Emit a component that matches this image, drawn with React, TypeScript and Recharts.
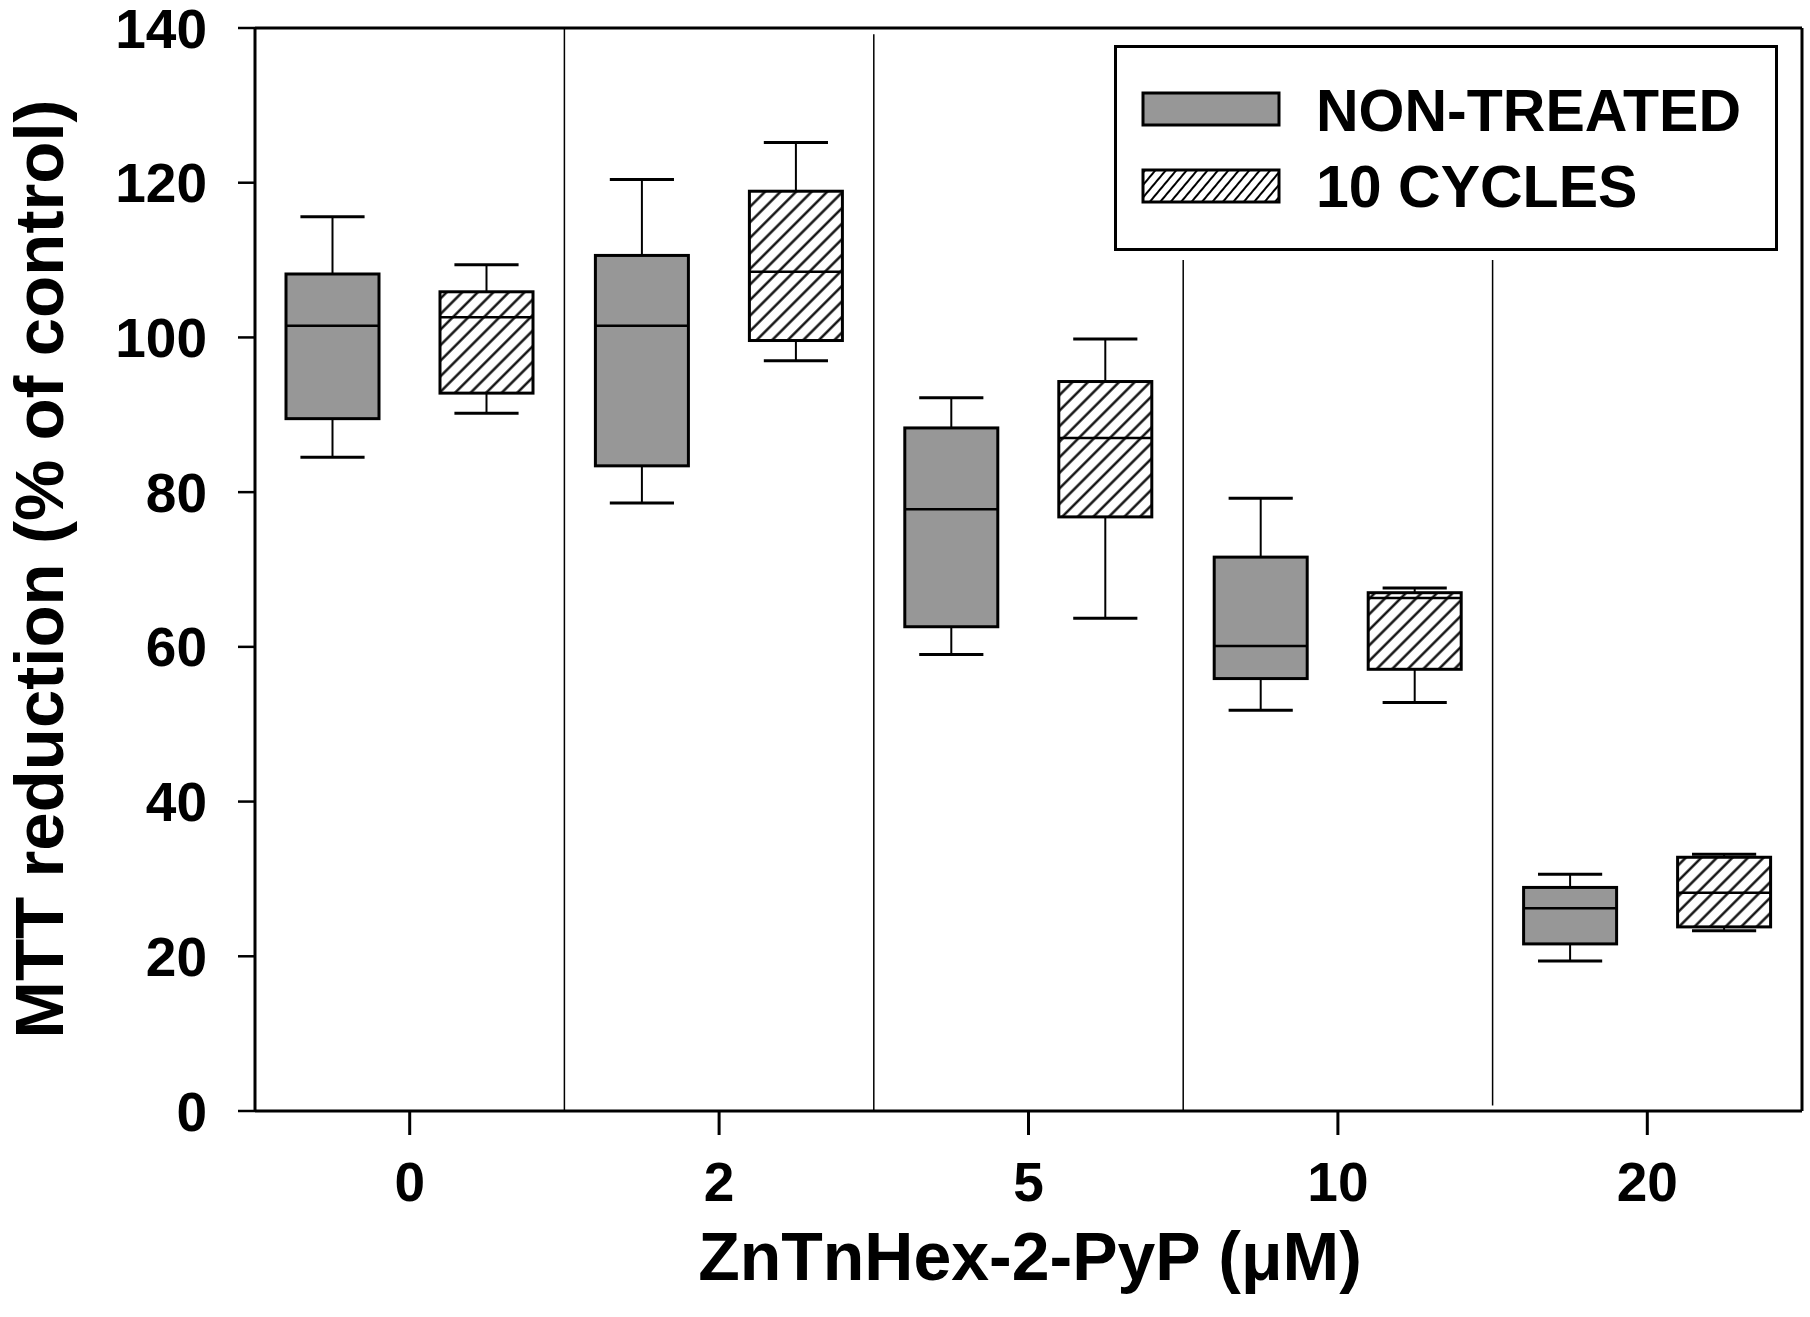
import React from 'react';
import { ComposedChart, Bar, XAxis, YAxis, ReferenceLine } from 'recharts';

const categories = ['0', '2', '5', '10', '20'];

const nonTreatedMin = [84.5, 78.6, 59.0, 51.8, 19.4];
const nonTreatedQ1 = [89.5, 83.4, 62.6, 55.9, 21.6];
const nonTreatedMedian = [101.5, 101.5, 77.8, 60.1, 26.2];
const nonTreatedQ3 = [108.2, 110.6, 88.3, 71.6, 28.9];
const nonTreatedMax = [115.6, 120.4, 92.2, 79.2, 30.6];

const cyclesMin = [90.2, 97.0, 63.7, 52.8, 23.3];
const cyclesQ1 = [92.8, 99.6, 76.8, 57.1, 23.8];
const cyclesMedian = [102.6, 108.5, 87.0, 66.3, 28.2];
const cyclesQ3 = [105.9, 118.9, 94.3, 67.0, 32.8];
const cyclesMax = [109.4, 125.2, 99.8, 67.6, 33.2];

const yTicks = [0, 20, 40, 60, 80, 100, 120, 140];
const seriesNames = ['NON-TREATED', '10 CYCLES'];
// separators sit at the start of these categories
const separators = [
  { cat: '2', y1: 0, y2: 140 },
  { cat: '5', y1: 0, y2: 139.2 },
  { cat: '10', y1: 0, y2: 110 },
  { cat: '20', y1: 0.7, y2: 110 },
];

const FONT = '"Liberation Sans", Arial, Helvetica, sans-serif';
const GRAY = '#979797';

const data = categories.map((cat, i) => ({
  cat,
  nt: { min: nonTreatedMin[i], q1: nonTreatedQ1[i], med: nonTreatedMedian[i], q3: nonTreatedQ3[i], max: nonTreatedMax[i] },
  cy: { min: cyclesMin[i], q1: cyclesQ1[i], med: cyclesMedian[i], q3: cyclesQ3[i], max: cyclesMax[i] },
}));

const makeBoxShape = (key: 'nt' | 'cy', hatched: boolean) => (props: any) => {
  const { x, y, width, height, payload, index } = props;
  const s = payload[key];
  const top = Math.min(y, y + height);
  const bot = Math.max(y, y + height);
  const k = (bot - top) / (s.q3 - s.q1);
  const py = (v: number) => top + (s.q3 - v) * k;
  const cx = x + width / 2;
  const cap = width * 0.69;
  const pid = `hatch-${key}-${index}`;
  return (
    <g>
      {hatched && (
        <defs>
          <pattern id={pid} patternUnits="userSpaceOnUse" width={11} height={11} patternTransform="rotate(45)">
            <rect x={0} y={0} width={11} height={11} fill="#fff" />
            <line x1={5.5} y1={0} x2={5.5} y2={11} stroke="#000" strokeWidth={2.3} />
          </pattern>
        </defs>
      )}
      <line x1={cx} x2={cx} y1={py(s.max)} y2={top} stroke="#000" strokeWidth={2} />
      <line x1={cx - cap / 2} x2={cx + cap / 2} y1={py(s.max)} y2={py(s.max)} stroke="#000" strokeWidth={3} />
      <line x1={cx} x2={cx} y1={bot} y2={py(s.min)} stroke="#000" strokeWidth={2} />
      <line x1={cx - cap / 2} x2={cx + cap / 2} y1={py(s.min)} y2={py(s.min)} stroke="#000" strokeWidth={3} />
      <rect x={x} y={top} width={width} height={bot - top} fill={hatched ? `url(#${pid})` : GRAY} stroke="#000" strokeWidth={3} />
      <line x1={x} x2={x + width} y1={py(s.med)} y2={py(s.med)} stroke="#000" strokeWidth={2.5} />
    </g>
  );
};

const YTitle = () => (
  <text
    x={63}
    y={569}
    transform="rotate(-90 63 569)"
    textAnchor="middle"
    fontFamily={FONT}
    fontWeight="bold"
    fontSize={69}
    fill="#000"
  >
    MTT reduction (% of control)
  </text>
);

const XTitle = () => (
  <text x={1030} y={1280} textAnchor="middle" fontFamily={FONT} fontWeight="bold" fontSize={68} fill="#000">
    ZnTnHex-2-PyP (μM)
  </text>
);

const LegendBox = () => (
  <div
    style={{
      position: 'absolute',
      left: 1114,
      top: 45,
      width: 664,
      height: 206,
      background: '#fff',
      border: '3px solid #000',
      boxSizing: 'border-box',
    }}
  >
    <svg width={658} height={200} style={{ position: 'absolute', left: 0, top: 0 }}>
      <defs>
        <pattern id="legend-hatch" patternUnits="userSpaceOnUse" width={8} height={8} patternTransform="rotate(40)">
          <rect x={0} y={0} width={8} height={8} fill="#fff" />
          <line x1={4} y1={0} x2={4} y2={8} stroke="#000" strokeWidth={2} />
        </pattern>
      </defs>
      {seriesNames.map((name, i) => (
        <g key={name}>
          <rect
            x={26}
            y={45 + i * 77}
            width={136}
            height={32}
            fill={i === 0 ? GRAY : 'url(#legend-hatch)'}
            stroke="#000"
            strokeWidth={3}
          />
          <text x={199} y={83 + i * 76} fontFamily={FONT} fontWeight="bold" fontSize={59} fill="#000">
            {name}
          </text>
        </g>
      ))}
    </svg>
  </div>
);

export default function App() {
  return (
    <div style={{ position: 'relative', width: 1810, height: 1317, background: '#fff' }}>
      <style>{`body{margin:0;background:#fff;}`}</style>
      <ComposedChart
        width={1810}
        height={1317}
        data={data}
        margin={{ top: 28, right: 8, bottom: 0, left: 0 }}
        barSize={93}
        barGap={61}
      >
        <XAxis
          dataKey="cat"
          height={206}
          axisLine={{ stroke: '#000', strokeWidth: 3 }}
          tickLine={{ stroke: '#000', strokeWidth: 3 }}
          tickSize={24}
          tickMargin={27}
          interval={0}
          tick={{ fontSize: 55, fontWeight: 'bold', fill: '#000', fontFamily: FONT }}
          label={{ content: () => <XTitle /> }}
        />
        <YAxis
          width={255}
          domain={[0, 140]}
          ticks={yTicks}
          interval={0}
          axisLine={{ stroke: '#000', strokeWidth: 3 }}
          tickLine={{ stroke: '#000', strokeWidth: 2.5 }}
          tickSize={17}
          tickMargin={31}
          tick={{ fontSize: 55, fontWeight: 'bold', fill: '#000', fontFamily: FONT }}
          label={{ content: () => <YTitle /> }}
        />
        {separators.map((s) => (
          <ReferenceLine
            key={s.cat}
            position="start"
            segment={[{ x: s.cat, y: s.y1 }, { x: s.cat, y: s.y2 }]}
            stroke="#000"
            strokeWidth={1.5}
          />
        ))}
        <ReferenceLine y={140} stroke="#000" strokeWidth={3} />
        <ReferenceLine x={categories[categories.length - 1]} position="end" stroke="#000" strokeWidth={3} />
        <Bar
          name={seriesNames[0]}
          dataKey={(d: any) => [d.nt.q1, d.nt.q3]}
          fill={GRAY}
          shape={makeBoxShape('nt', false)}
          isAnimationActive={false}
        />
        <Bar
          name={seriesNames[1]}
          dataKey={(d: any) => [d.cy.q1, d.cy.q3]}
          fill="#fff"
          shape={makeBoxShape('cy', true)}
          isAnimationActive={false}
        />
      </ComposedChart>
      <LegendBox />
    </div>
  );
}
